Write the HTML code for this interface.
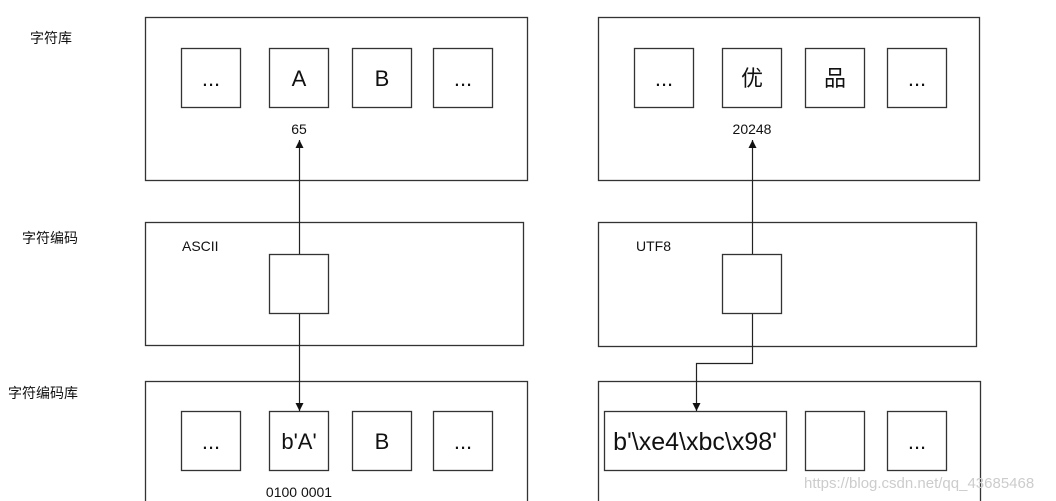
<!DOCTYPE html>
<html><head><meta charset="utf-8"><style>
html,body{margin:0;padding:0;background:#fff;}
svg{display:block;}
text{font-family:"Liberation Sans","Noto Sans CJK SC",sans-serif;fill:#111;}
</style></head><body>
<svg width="1056" height="501" viewBox="0 0 1056 501" xmlns="http://www.w3.org/2000/svg">
<defs><marker id="a" markerWidth="8" markerHeight="8" refX="8" refY="4" orient="auto" markerUnits="userSpaceOnUse"><path d="M0,0 L8,4 L0,8 z" fill="#111"/></marker></defs>
<g fill="none" stroke="#333" stroke-width="1.3">
<rect x="145.5" y="17.5" width="382" height="163"/>
<rect x="598.5" y="17.5" width="381" height="163"/>
<rect x="145.5" y="222.5" width="378" height="123"/>
<rect x="598.5" y="222.5" width="378" height="124"/>
<rect x="145.5" y="381.5" width="382" height="130"/>
<rect x="598.5" y="381.5" width="382" height="130"/>
<rect x="181.5" y="48.5" width="59" height="59"/>
<rect x="269.5" y="48.5" width="59" height="59"/>
<rect x="352.5" y="48.5" width="59" height="59"/>
<rect x="433.5" y="48.5" width="59" height="59"/>
<rect x="634.5" y="48.5" width="59" height="59"/>
<rect x="722.5" y="48.5" width="59" height="59"/>
<rect x="805.5" y="48.5" width="59" height="59"/>
<rect x="887.5" y="48.5" width="59" height="59"/>
<rect x="269.5" y="254.5" width="59" height="59"/>
<rect x="722.5" y="254.5" width="59" height="59"/>
<rect x="181.5" y="411.5" width="59" height="59"/>
<rect x="269.5" y="411.5" width="59" height="59"/>
<rect x="352.5" y="411.5" width="59" height="59"/>
<rect x="433.5" y="411.5" width="59" height="59"/>
<rect x="604.5" y="411.5" width="182" height="59"/>
<rect x="805.5" y="411.5" width="59" height="59"/>
<rect x="887.5" y="411.5" width="59" height="59"/>
</g>
<g fill="none" stroke="#222" stroke-width="1.2">
<path d="M299.5 254 V140" marker-end="url(#a)"/>
<path d="M299.5 314 V411" marker-end="url(#a)"/>
<path d="M752.5 254 V140" marker-end="url(#a)"/>
<path d="M752.5 314 V363.5 H696.5 V411" marker-end="url(#a)"/>
</g>
<g font-size="14">
<text x="30" y="43">字符库</text>
<text x="22" y="243">字符编码</text>
<text x="8" y="398">字符编码库</text>
<text x="182" y="251" font-size="14">ASCII</text>
<text x="636" y="251" font-size="14">UTF8</text>
<text x="299" y="134" text-anchor="middle">65</text>
<text x="752" y="134" text-anchor="middle">20248</text>
<text x="299" y="497" text-anchor="middle">0100 0001</text>
</g>
<g font-size="22" text-anchor="middle">
<text x="211" y="86">...</text>
<text x="299" y="86">A</text>
<text x="382" y="86">B</text>
<text x="463" y="86">...</text>
<text x="664" y="86">...</text>
<text x="752" y="86">优</text>
<text x="835" y="86">品</text>
<text x="917" y="86">...</text>
<text x="211" y="449">...</text>
<text x="299" y="449">b'A'</text>
<text x="382" y="449">B</text>
<text x="463" y="449">...</text>
<text x="695" y="450" font-size="25">b'\xe4\xbc\x98'</text>
<text x="917" y="449">...</text>
</g>
<text x="804" y="488" font-size="15" style="fill:#ccc">https://blog.csdn.net/qq_43685468</text>
</svg>
</body></html>
